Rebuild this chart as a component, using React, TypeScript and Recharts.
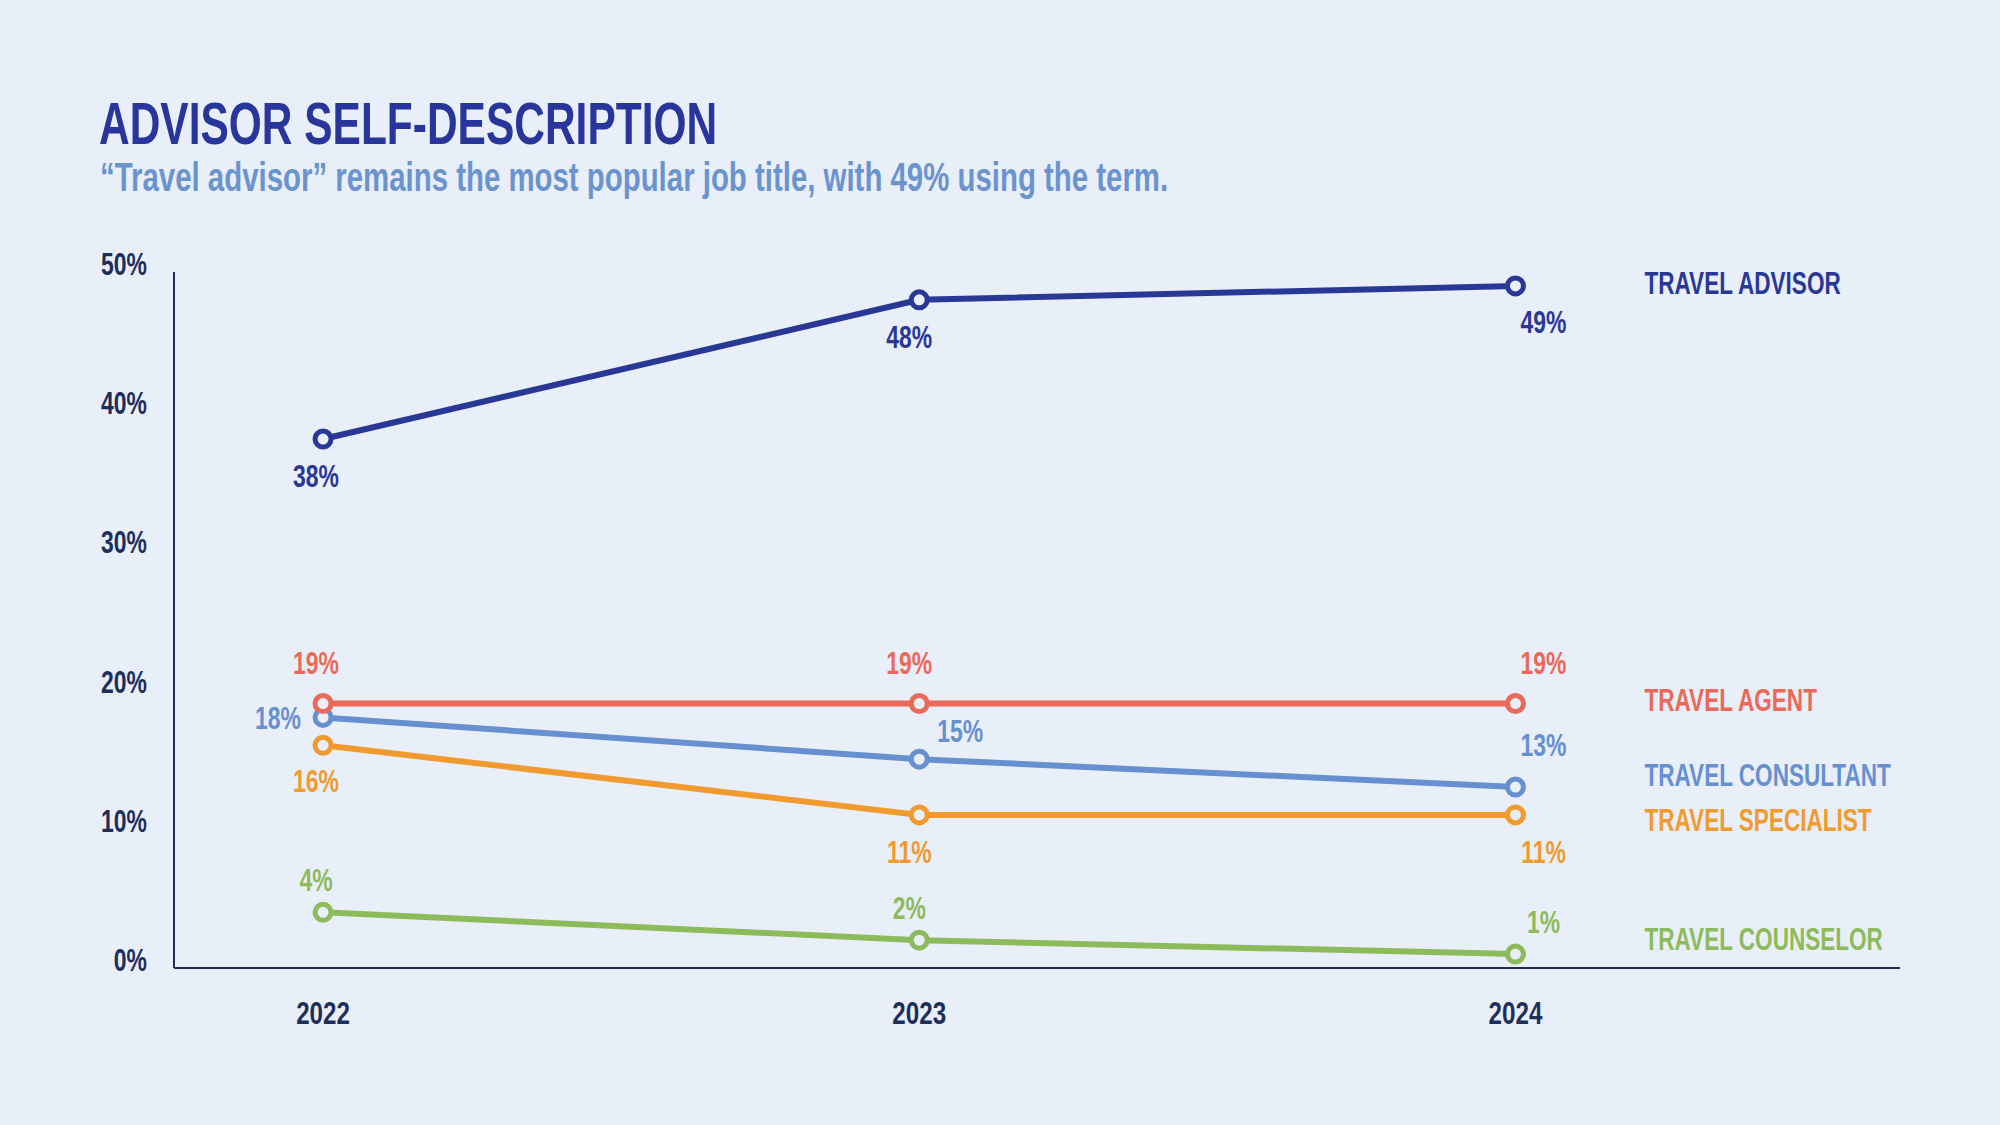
import { LineChart, Line, XAxis, YAxis, LabelList } from 'recharts';

const years = [2022, 2023, 2024];
const travelAdvisor = [38, 48, 49];
const travelAgent = [19, 19, 19];
const travelConsultant = [18, 15, 13];
const travelSpecialist = [16, 11, 11];
const travelCounselor = [4, 2, 1];
const percentTicks = [0, 10, 20, 30, 40, 50];

const data = years.map((year, i) => ({
  year,
  counselor: travelCounselor[i],
  specialist: travelSpecialist[i],
  consultant: travelConsultant[i],
  agent: travelAgent[i],
  advisor: travelAdvisor[i],
}));

const BG = '#e9eff8';
const INK = '#1e2e5b';
const FONT = "'Liberation Sans', Arial, sans-serif";

// label offsets (dx, dy of the text centre from each point) and name nudge
const series = [
  { key: 'counselor', name: 'TRAVEL COUNSELOR', color: '#8dbb5c', offsets: [[-7, -32], [-10, -32], [28, -32]], nameDy: -16 },
  { key: 'specialist', name: 'TRAVEL SPECIALIST', color: '#f09a30', offsets: [[-7, 36], [-10, 37], [28, 37]], nameDy: 5 },
  { key: 'consultant', name: 'TRAVEL CONSULTANT', color: '#6790d0', offsets: [[-45, 0], [41, -28], [28, -42]], nameDy: -12 },
  { key: 'agent', name: 'TRAVEL AGENT', color: '#e96a58', offsets: [[-7, -41], [-10, -41], [28, -41]], nameDy: -4 },
  { key: 'advisor', name: 'TRAVEL ADVISOR', color: '#2a3895', offsets: [[-7, 37], [-10, 37], [28, 36]], nameDy: -3 },
];

type SqProps = { x: number; y: number; size: number; color: string; anchor?: 'start' | 'middle' | 'end'; squeeze?: number; children: React.ReactNode };

// condensed bold text: centred vertically on y (cap height centre)
function Sq({ x, y, size, color, anchor = 'middle', squeeze = 0.72, children }: SqProps) {
  return (
    <g transform={`translate(${x},${y + size * 0.358}) scale(${squeeze},1)`}>
      <text x={0} y={0} textAnchor={anchor} fontFamily={FONT} fontWeight={700} fontSize={size} fill={color}>
        {children}
      </text>
    </g>
  );
}

function makeLabel(s: (typeof series)[number]) {
  return (props: any) => {
    const { x, y, value, index } = props;
    const [dx, dy] = s.offsets[index];
    return (
      <g>
        <Sq x={x + dx} y={y + dy} size={31} color={s.color} squeeze={0.74}>
          {`${value}%`}
        </Sq>
        {index === years.length - 1 && (
          <Sq x={x + 129} y={y + s.nameDy} size={32} color={s.color} anchor="start" squeeze={0.705}>
            {s.name}
          </Sq>
        )}
      </g>
    );
  };
}

const YTick = (props: any) => (
  <Sq x={props.x} y={props.y - 8} size={31} color={INK} anchor="end" squeeze={0.74}>
    {`${props.payload.value}%`}
  </Sq>
);

const XTick = (props: any) => (
  <Sq x={props.x} y={props.y + 45} size={31} color={INK} squeeze={0.78}>
    {props.payload.value}
  </Sq>
);

export default function App() {
  return (
    <div style={{ position: 'relative', width: 2000, height: 1125, background: BG }}>
      <style>{'body{margin:0}'}</style>
      <svg width={2000} height={230} style={{ position: 'absolute', left: 0, top: 0 }}>
        <g transform="translate(99,144) scale(0.72,1)">
          <text x={0} y={0} fontFamily={FONT} fontWeight={700} fontSize={59} fill="#28359a">
            ADVISOR SELF-DESCRIPTION
          </text>
        </g>
        <g transform="translate(100,191) scale(0.735,1)">
          <text x={0} y={0} fontFamily={FONT} fontWeight={700} fontSize={40} fill="#6b94cf">
            “Travel advisor” remains the most popular job title, with 49% using the term.
          </text>
        </g>
      </svg>
      <div style={{ position: 'absolute', left: 0, top: 0 }}>
        <LineChart width={2000} height={1125} data={data} margin={{ top: 272, right: 100, bottom: 97, left: 114 }}>
          <XAxis
            dataKey="year"
            type="number"
            domain={[2021.75, 2024.645]}
            ticks={years}
            allowDataOverflow
            stroke={INK}
            strokeWidth={2}
            tickLine={false}
            tickSize={0}
            tickMargin={0}
            height={60}
            tick={<XTick />}
          />
          <YAxis
            type="number"
            domain={[0, 50]}
            ticks={percentTicks}
            stroke={INK}
            strokeWidth={2}
            tickLine={false}
            tickSize={0}
            tickMargin={27}
            width={60}
            tick={<YTick />}
          />
          {series.map((s) => (
            <Line
              key={s.key}
              dataKey={s.key}
              stroke={s.color}
              strokeWidth={6}
              dot={{ r: 8, strokeWidth: 5, fill: BG, stroke: s.color }}
              activeDot={false}
              isAnimationActive={false}
            >
              <LabelList dataKey={s.key} content={makeLabel(s)} />
            </Line>
          ))}
        </LineChart>
      </div>
    </div>
  );
}
